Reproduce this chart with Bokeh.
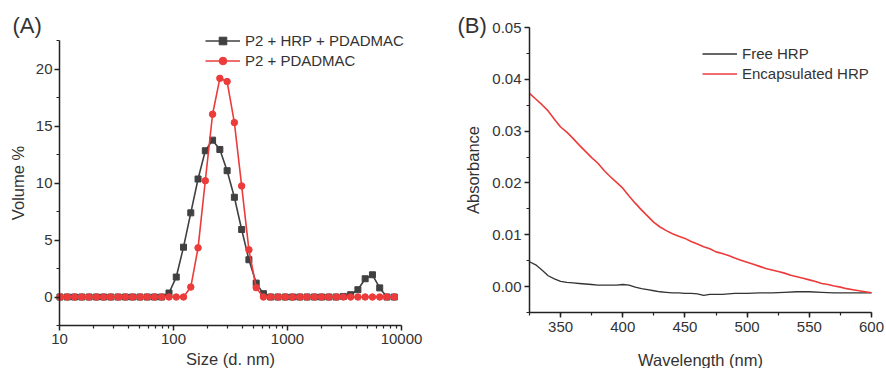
import math
from bokeh.plotting import figure
from bokeh.layouts import row
from bokeh.models import (Range1d, FixedTicker, SingleIntervalTicker, NumeralTickFormatter,
                          Legend, LegendItem, Label)
from bokeh.embed import file_html
from bokeh.resources import INLINE

# ---------------- Panel A data (DLS size distribution) ----------------
sizes = [10.10, 11.70, 13.54, 15.69, 18.17, 21.04, 24.36, 28.21, 32.67, 37.84,
         43.82, 50.75, 58.77, 68.06, 78.82, 91.28, 105.7, 122.4, 141.8, 164.2,
         190.1, 220.2, 255.0, 295.3, 342.0, 396.1, 458.7, 531.2, 615.1, 712.4,
         825.0, 955.4, 1106, 1281, 1484, 1718, 1990, 2305, 2669, 3091,
         3580, 4145, 4801, 5560, 6439, 7456, 8635]
vol_hrp = [0, 0, 0, 0, 0, 0, 0, 0, 0, 0,
           0, 0, 0, 0, 0, 0.35, 1.75, 4.37, 7.38, 10.35,
           12.83, 13.76, 12.94, 11.08, 8.75, 5.92, 3.27, 1.22, 0.29, 0,
           0, 0, 0, 0, 0, 0, 0, 0, 0, 0.05,
           0.2, 0.64, 1.6, 1.95, 0.8, 0, 0]
vol_plain = [0, 0, 0, 0, 0, 0, 0, 0, 0, 0,
             0, 0, 0, 0, 0, 0, 0, 0, 0.87, 4.31,
             10.2, 16.03, 19.18, 18.9, 15.3, 9.74, 4.14, 0.82, 0, 0,
             0, 0, 0, 0, 0, 0, 0, 0, 0, 0,
             0, 0, 0, 0, 0, 0, 0]
a_xticks = [10, 100, 1000, 10000]
a_xtick_labels = ["10", "100", "1000", "10000"]
a_xminor = [20, 30, 40, 50, 60, 70, 80, 90, 200, 300, 400, 500, 600, 700, 800, 900,
            2000, 3000, 4000, 5000, 6000, 7000, 8000, 9000]
label_a1 = "P2 + HRP + PDADMAC"
label_a2 = "P2 + PDADMAC"

# ---------------- Panel B data (absorbance spectra) ----------------
wl_enc = [325, 330, 335, 340, 345, 350, 355, 360, 365, 370, 375, 380, 385, 390, 395,
          400, 405, 410, 415, 420, 425, 430, 435, 440, 445, 450, 455, 460, 465, 470,
          475, 480, 485, 490, 495, 500, 505, 510, 515, 520, 525, 530, 535, 540, 545,
          550, 555, 560, 565, 570, 575, 580, 585, 590, 595, 600]
abs_enc = [0.0373, 0.0362, 0.0351, 0.0339, 0.0323, 0.0308, 0.0298, 0.0286, 0.0273, 0.0261,
           0.0249, 0.0238, 0.0224, 0.0212, 0.0201, 0.0190, 0.0175, 0.0161, 0.0148, 0.0136,
           0.0124, 0.0115, 0.0108, 0.0102, 0.0097, 0.0093, 0.0087, 0.0082, 0.0077, 0.0073,
           0.0067, 0.0064, 0.0060, 0.0055, 0.0051, 0.0047, 0.0043, 0.0039, 0.0035, 0.0032,
           0.0029, 0.0026, 0.0022, 0.0019, 0.0016, 0.0013, 0.0010, 0.0006, 0.0004, 0.0001,
           -0.0001, -0.0004, -0.0006, -0.0008, -0.0010, -0.0012]
wl_free = [325, 330, 335, 340, 345, 350, 355, 360, 365, 370, 375, 380, 385, 390, 395,
           400, 405, 410, 415, 420, 425, 430, 435, 440, 445, 450, 455, 460, 465, 470,
           475, 480, 485, 490, 495, 500, 510, 520, 530, 540, 550, 560, 570, 580, 590, 600]
abs_free = [0.0048, 0.0042, 0.0032, 0.0021, 0.0015, 0.0010, 0.0008, 0.0007, 0.0006, 0.0005,
            0.0004, 0.0003, 0.0003, 0.0003, 0.0003, 0.0004, 0.0003, -0.0001, -0.0004, -0.0006,
            -0.0008, -0.0010, -0.0011, -0.0012, -0.0012, -0.0013, -0.0013, -0.0014, -0.0017, -0.0015,
            -0.0015, -0.0015, -0.0014, -0.0013, -0.0013, -0.0013, -0.0012, -0.0012, -0.0011, -0.0010,
            -0.0010, -0.0011, -0.0012, -0.0012, -0.0012, -0.0012]
label_b1 = "Free HRP"
label_b2 = "Encapsulated HRP"

FONT = "Liberation Sans"
AX = "#222222"
TXT = "#333333"
BLACK = "#404040"
RED = "#ec3b3b"
H = 368  # canvas height of both panels


def style_axis(ax, standoff_label=6, label_standoff=2):
    ax.axis_line_color = AX
    ax.axis_line_width = 1.5
    ax.major_tick_line_color = AX
    ax.major_tick_line_width = 1.5
    ax.minor_tick_line_color = AX
    ax.minor_tick_line_width = 1.2
    ax.major_tick_out = 5
    ax.major_tick_in = 0
    ax.minor_tick_out = 3
    ax.minor_tick_in = 0
    ax.major_label_text_font = FONT
    ax.major_label_text_font_size = "15px"
    ax.major_label_text_color = TXT
    ax.major_label_standoff = label_standoff
    ax.axis_label_text_font = FONT
    ax.axis_label_text_font_size = "16.5px"
    ax.axis_label_text_font_style = "normal"
    ax.axis_label_text_color = TXT
    ax.axis_label_standoff = standoff_label


def style_fig(p):
    p.xgrid.visible = False
    p.ygrid.visible = False
    p.outline_line_color = None
    p.background_fill_color = "white"
    p.border_fill_color = "white"


def make_legend(items, x, y):
    return Legend(items=items, location=(x, y), padding=0, margin=0, spacing=1,
                  label_standoff=5, glyph_width=35, glyph_height=19, label_height=19,
                  label_text_font=FONT, label_text_font_size="15px", label_text_color=TXT,
                  border_line_color=None, background_fill_alpha=0)


def text(p, s, x, y, size, align="left", baseline="middle"):
    p.add_layout(Label(x=x, y=y, x_units="screen", y_units="screen", text=s,
                       text_font=FONT, text_font_size=size, text_color=TXT,
                       text_align=align, text_baseline=baseline))


# ---------------- Panel A ----------------
# plot box of panel A inside its 440 x 368 canvas: left 59, width 342, top 40, height 285
WA, a_l, a_w, a_t, a_h = 440, 59, 342, 40, 285
a_x0, a_x1, a_y0, a_y1 = 10, 10000, -2.5, 22.5
dec_px = a_w / math.log10(a_x1 / a_x0)
ax_lo = 10 ** (math.log10(a_x0) - a_l / dec_px)
ax_hi = 10 ** (math.log10(a_x1) + (WA - a_l - a_w) / dec_px)
ay_px = a_h / (a_y1 - a_y0)
ay_lo = a_y0 - (H - a_t - a_h) / ay_px
ay_hi = a_y1 + a_t / ay_px

pA = figure(x_axis_type="log", x_range=Range1d(ax_lo, ax_hi), y_range=Range1d(ay_lo, ay_hi),
            frame_width=WA, frame_height=H, min_border=0, title=None,
            output_backend="svg", toolbar_location=None)
style_fig(pA)
lb = pA.line(sizes, vol_hrp, line_color=BLACK, line_width=1.6)
sb = pA.scatter(sizes, vol_hrp, marker="square", size=6, fill_color=BLACK, line_color=BLACK)
lr = pA.line(sizes, vol_plain, line_color=RED, line_width=1.6)
sr = pA.scatter(sizes, vol_plain, marker="circle", size=6.5, fill_color=RED, line_color=RED)

pA.xaxis.ticker = FixedTicker(ticks=a_xticks, minor_ticks=a_xminor)
pA.xaxis.major_label_overrides = {t: l for t, l in zip(a_xticks, a_xtick_labels)}
pA.xaxis.bounds = (a_x0, a_x1)
pA.xaxis.fixed_location = a_y0
pA.yaxis.ticker = SingleIntervalTicker(interval=5, num_minor_ticks=2)
pA.yaxis.bounds = (a_y0, a_y1)
pA.yaxis.fixed_location = a_x0
pA.yaxis.axis_label = "Volume %"
style_axis(pA.xaxis[0], label_standoff=3)
style_axis(pA.yaxis[0], 6)

pA.add_layout(make_legend([LegendItem(label=label_a1, renderers=[lb, sb]),
                           LegendItem(label=label_a2, renderers=[lr, sr])], 205, 298))
text(pA, "(A)", 12, 343, "22px")
text(pA, "Size (d. nm)", a_l + a_w / 2, 9.5, "16.5px", align="center", baseline="alphabetic")

# ---------------- Panel B ----------------
WB, b_l, b_w, b_t, b_h = 446, 89, 342, 27, 285
b_x0, b_x1, b_y0, b_y1 = 325, 600, -0.005, 0.05
bx_px = b_w / (b_x1 - b_x0)
bx_lo = b_x0 - b_l / bx_px
bx_hi = b_x1 + (WB - b_l - b_w) / bx_px
by_px = b_h / (b_y1 - b_y0)
by_lo = b_y0 - (H - b_t - b_h) / by_px
by_hi = b_y1 + b_t / by_px

pB = figure(x_range=Range1d(bx_lo, bx_hi), y_range=Range1d(by_lo, by_hi),
            frame_width=WB, frame_height=H, min_border=0, title=None,
            output_backend="svg", toolbar_location=None)
style_fig(pB)
lf = pB.line(wl_free, abs_free, line_color="#333333", line_width=1.3)
le = pB.line(wl_enc, abs_enc, line_color=RED, line_width=1.6)
pB.xaxis.ticker = SingleIntervalTicker(interval=50, num_minor_ticks=2)
pB.xaxis.bounds = (b_x0, b_x1)
pB.xaxis.fixed_location = b_y0
pB.yaxis.ticker = SingleIntervalTicker(interval=0.01, num_minor_ticks=2)
pB.yaxis.formatter = NumeralTickFormatter(format="0.00")
pB.yaxis.bounds = (b_y0, b_y1)
pB.yaxis.fixed_location = b_x0
pB.yaxis.axis_label = "Absorbance"
style_axis(pB.xaxis[0], label_standoff=4)
style_axis(pB.yaxis[0], 7, label_standoff=3)

pB.add_layout(make_legend([LegendItem(label=label_b1, renderers=[lf]),
                           LegendItem(label=label_b2, renderers=[le])], 262, 285))
text(pB, "(B)", 17, 343, "22px")
text(pB, "Wavelength (nm)", b_l + b_w / 2, 8.7, "16.5px", align="center", baseline="alphabetic")

layout = row(pA, pB)
open("out.html", "w").write(file_html(layout, INLINE))
